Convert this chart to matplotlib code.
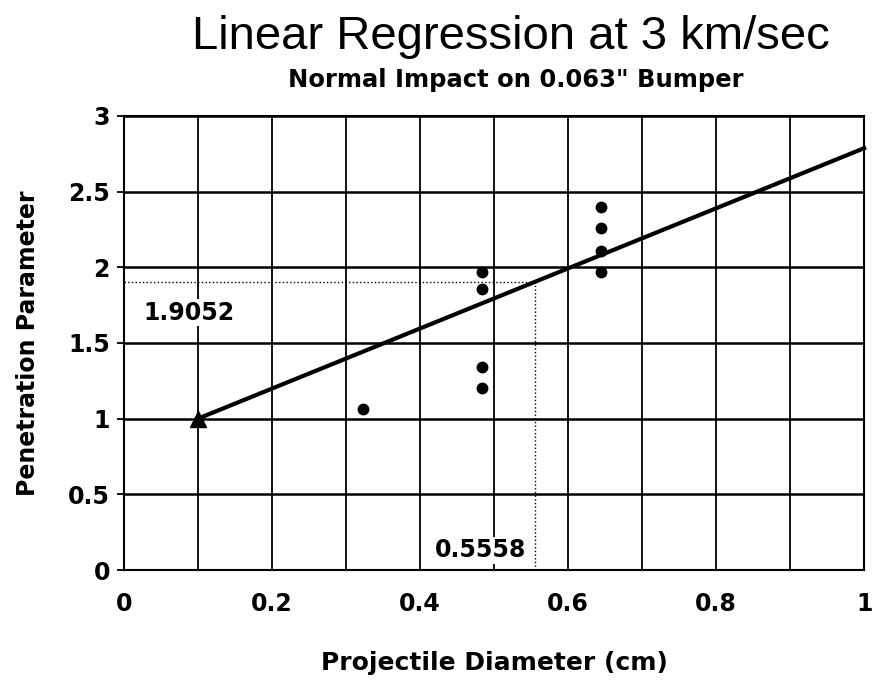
import matplotlib
matplotlib.use("Agg")
import matplotlib.pyplot as plt
import numpy as np

# Data
pts_x = [0.323, 0.484, 0.484, 0.484, 0.484, 0.645, 0.645, 0.645, 0.645]
pts_y = [1.065, 1.97, 1.86, 1.34, 1.20, 2.40, 2.26, 2.11, 1.97]
line_x = [0.1, 1.0]
line_y = [1.0, 2.787]
tri_x = [0.1]
tri_y = [1.0]
ref_x = 0.5558
ref_y = 1.9052
xticks = [0, 0.2, 0.4, 0.6, 0.8, 1]
xticklabels = ["0", "0.2", "0.4", "0.6", "0.8", "1"]
yticks = [0, 0.5, 1, 1.5, 2, 2.5, 3]
yticklabels = ["0", "0.5", "1", "1.5", "2", "2.5", "3"]

plt.rcParams['font.family'] = ['DejaVu Sans']

fig = plt.figure(figsize=(8.72, 6.86), dpi=100)
ax = fig.add_axes([0.142, 0.169, 0.849, 0.662])
ax.set_xlim(0, 1)
ax.set_ylim(0, 3)

ax.set_xticks(xticks)
ax.set_xticklabels(xticklabels, fontsize=17, fontweight='bold')
ax.set_yticks(yticks)
ax.set_yticklabels(yticklabels, fontsize=17, fontweight='bold')
ax.set_xticks(np.arange(0.1, 1.0, 0.2), minor=True)
ax.tick_params(axis='x', which='both', length=0, pad=16)
ax.tick_params(axis='y', which='major', length=5, width=1.3, pad=5)
ax.xaxis.grid(True, which='both', color='black', linewidth=1.3)
ax.yaxis.grid(True, which='major', color='black', linewidth=1.8)
for s in ax.spines.values():
    s.set_linewidth(1.5)
ax.set_axisbelow(True)

# reference dotted lines
ax.plot([0, ref_x], [ref_y, ref_y], color='black', linestyle=':', linewidth=1.0)
ax.plot([ref_x, ref_x], [0, ref_y], color='black', linestyle=':', linewidth=1.0)

ax.plot(line_x, line_y, color='black', linewidth=3.0, clip_on=False)
ax.plot(tri_x, tri_y, marker='^', color='black', markersize=12, linestyle='none', clip_on=False)
ax.plot(pts_x, pts_y, 'o', color='black', markersize=7.5)

ax.text(0.026, 1.70, "1.9052", fontsize=17, fontweight='bold', ha='left', va='center',
        bbox=dict(facecolor='white', edgecolor='none', pad=1))
ax.text(0.42, 0.13, "0.5558", fontsize=17, fontweight='bold', ha='left', va='center',
        bbox=dict(facecolor='white', edgecolor='none', pad=1))

ax.set_xlabel("Projectile Diameter (cm)", fontsize=18, fontweight='bold', labelpad=25)
ax.set_ylabel("Penetration Parameter", fontsize=17, fontweight='bold', labelpad=20)

fig.text(0.586, 0.946, "Linear Regression at 3 km/sec", fontsize=34,
         family=['Liberation Sans', 'DejaVu Sans'], ha='center', va='center')
fig.text(0.592, 0.883, "Normal Impact on 0.063\" Bumper", fontsize=17.5, fontweight='bold',
         ha='center', va='center')

fig.savefig("out.png", dpi=100)
